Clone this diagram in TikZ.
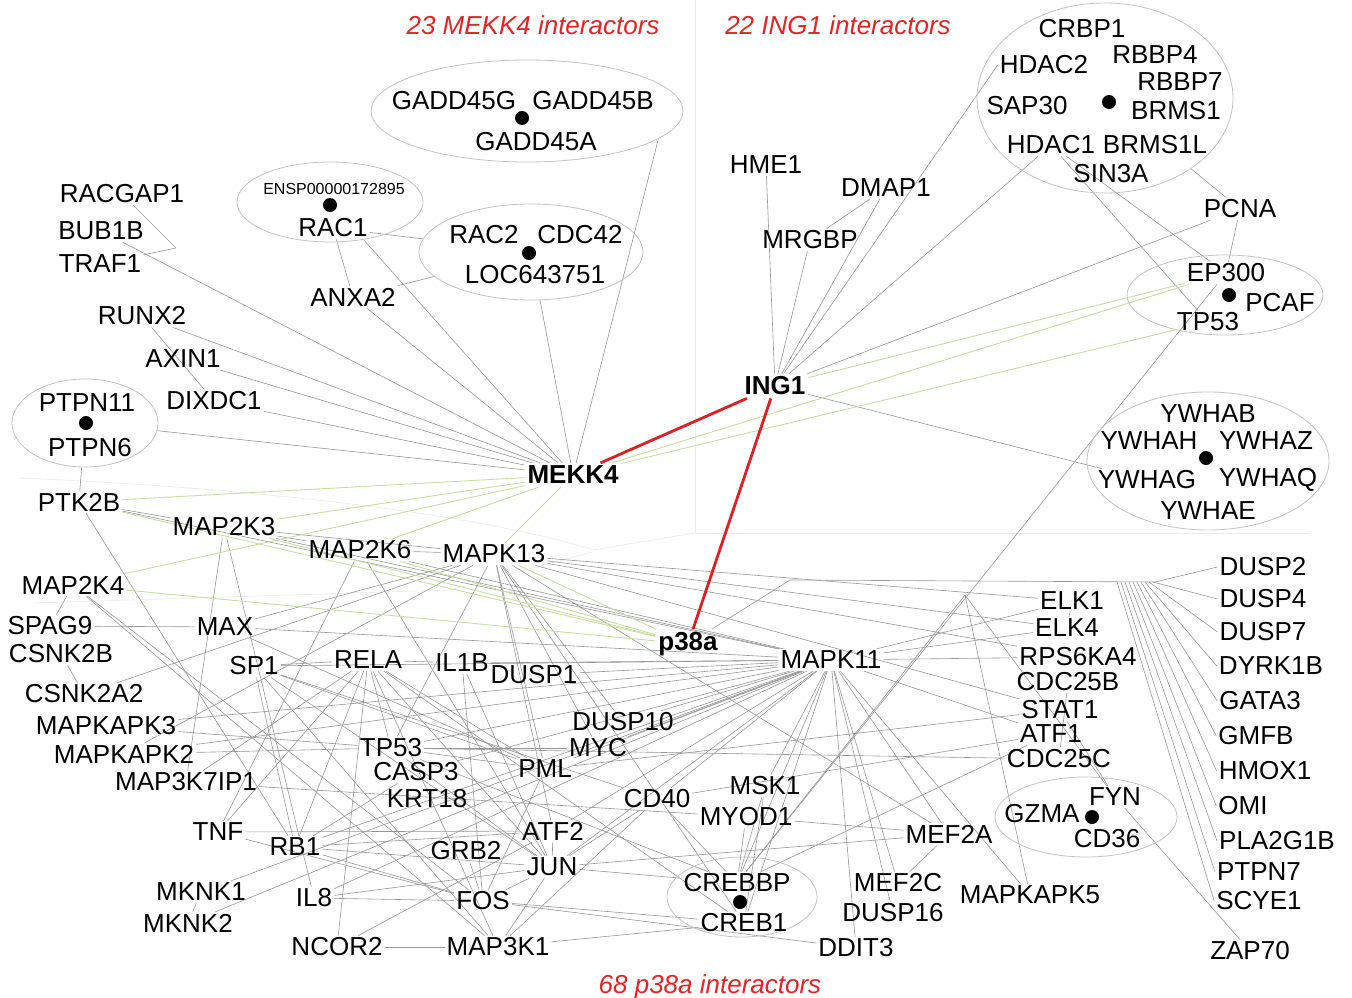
\documentclass[tikz,border=0pt]{standalone}
\usepackage{fontspec}
\setmainfont{Liberation Sans}
\usetikzlibrary{shapes.geometric,backgrounds}
\definecolor{linkgray}{RGB}{150,150,150}
\definecolor{linkgreen}{RGB}{200,222,160}
\definecolor{hubred}{RGB}{226,30,36}
\definecolor{notered}{RGB}{230,35,35}
\definecolor{grpgray}{RGB}{195,195,195}
\begin{document}
\begin{tikzpicture}[x=1pt,y=1pt,
  gene/.style={font=\fontsize{26}{28}\selectfont, inner sep=2pt},
  small/.style={font=\fontsize{16}{18}\selectfont, inner sep=1pt},
  hub/.style={font=\fontsize{26}{28}\selectfont\bfseries, inner sep=3pt},
  note/.style={font=\fontsize{26}{28}\selectfont\itshape, text=notered, anchor=base},
  grp/.style={ellipse, draw=grpgray, line width=0.8pt, inner sep=0pt},
  dot/.style={circle, fill=black, inner sep=0pt, minimum size=14pt},
  link/.style={draw=linkgray, line width=0.6pt},
  glink/.style={draw=linkgreen, line width=0.9pt},
  rlink/.style={draw=hubred, line width=2.8pt},
  faint/.style={draw=black!7, line width=0.8pt}]
\useasboundingbox (0,0) rectangle (1352,-998);

\node[note] (nmekk) at (533,-35) {23 MEKK4 interactors};
\node[note] (ning) at (838,-35) {22 ING1 interactors};
\node[note] (np38) at (710,-993) {68 p38a interactors};

\node[hub] (mekk4) at (573,-475) {MEKK4};
\node[hub] (ing1) at (775,-386) {ING1};
\node[hub] (p38a) at (688,-644) {p38a};

\node[grp, minimum width=312, minimum height=102] (gadd) at (527,-111) {};
\node[gene] (gadd45g) at (454,-101) {GADD45G};
\node[gene] (gadd45b) at (593,-101) {GADD45B};
\node[gene] (gadd45a) at (536,-142) {GADD45A};
\node[dot] (gdot) at (522,-118) {};
\node[grp, minimum width=186, minimum height=80] (ensp) at (330,-202) {};
\node[small] (enspl) at (334,-189) {ENSP00000172895};
\node[dot] (edot) at (330,-205) {};
\node[gene] (rac1) at (333,-228) {RAC1};
\node[grp, minimum width=224, minimum height=96] (racgrp) at (531,-252) {};
\node[gene] (rac2) at (484,-235) {RAC2};
\node[gene] (cdc42) at (580,-235) {CDC42};
\node[gene] (loc) at (535,-275) {LOC643751};
\node[dot] (rdot) at (529,-253) {};
\node[gene] (racgap1) at (122,-194) {RACGAP1};
\node[gene] (bub1b) at (101,-231) {BUB1B};
\node[gene] (traf1) at (100,-264) {TRAF1};
\node[gene] (anxa2) at (353,-297) {ANXA2};
\node[gene] (runx2) at (142,-316) {RUNX2};
\node[gene] (axin1) at (183,-359) {AXIN1};
\node[gene] (dixdc1) at (214,-401) {DIXDC1};
\node[grp, minimum width=146, minimum height=88] (ptpn) at (85,-423) {};
\node[gene] (ptpn11) at (87,-403) {PTPN11};
\node[gene] (ptpn6) at (90,-448) {PTPN6};
\node[dot] (pdot) at (86,-423) {};

\node[gene] (ptk2b) at (79,-502) {PTK2B};
\node[gene] (map2k3) at (224,-527) {MAP2K3};
\node[gene] (map2k6) at (360,-550) {MAP2K6};
\node[gene] (mapk13) at (494,-554) {MAPK13};
\node[gene] (map2k4) at (73,-585) {MAP2K4};
\node[gene] (spag9) at (50,-626) {SPAG9};
\node[gene] (csnk2b) at (61,-654) {CSNK2B};
\node[gene] (max) at (225,-627) {MAX};
\node[gene] (csnk2a2) at (84,-694) {CSNK2A2};
\node[gene] (sp1) at (254,-666) {SP1};
\node[gene] (rela) at (368,-660) {RELA};
\node[gene] (il1b) at (462,-663) {IL1B};
\node[gene] (dusp1) at (534,-675) {DUSP1};
\node[gene] (mapkapk3) at (106,-726) {MAPKAPK3};
\node[gene] (mapkapk2) at (124,-754) {MAPKAPK2};
\node[gene] (map3k7ip1) at (186,-782) {MAP3K7IP1};
\node[gene] (tp53b) at (391,-748) {TP53};
\node[gene] (casp3) at (416,-772) {CASP3};
\node[gene] (krt18) at (427,-799) {KRT18};
\node[gene] (dusp10) at (623,-722) {DUSP10};
\node[gene] (myc) at (598,-748) {MYC};
\node[gene] (pml) at (545,-769) {PML};
\node[gene] (cd40) at (657,-799) {CD40};
\node[gene] (tnf) at (218,-832) {TNF};
\node[gene] (rb1) at (295,-847) {RB1};
\node[gene] (atf2) at (553,-831) {ATF2};
\node[gene] (grb2) at (466,-851) {GRB2};
\node[gene] (jun) at (552,-867) {JUN};
\node[gene] (mknk1) at (201,-892) {MKNK1};
\node[gene] (mknk2) at (188,-923) {MKNK2};
\node[gene] (il8) at (314,-898) {IL8};
\node[gene] (fos) at (483,-901) {FOS};
\node[gene] (ncor2) at (337,-947) {NCOR2};
\node[gene] (map3k1) at (498,-947) {MAP3K1};

\node[grp, minimum width=256, minimum height=190] (inggrp) at (1105,-98) {};
\node[gene] (crbp1) at (1082,-29) {CRBP1};
\node[gene] (hdac2) at (1044,-65) {HDAC2};
\node[gene] (rbbp4) at (1155,-55) {RBBP4};
\node[gene] (rbbp7) at (1180,-82) {RBBP7};
\node[gene] (sap30) at (1027,-106) {SAP30};
\node[dot] (idot) at (1109,-102) {};
\node[gene] (brms1) at (1176,-111) {BRMS1};
\node[gene] (hdac1) at (1051,-145) {HDAC1};
\node[gene] (brms1l) at (1155,-145) {BRMS1L};
\node[gene] (sin3a) at (1111,-174) {SIN3A};
\node[gene] (hme1) at (766,-165) {HME1};
\node[gene] (dmap1) at (886,-188) {DMAP1};
\node[gene] (mrgbp) at (810,-240) {MRGBP};
\node[gene] (pcna) at (1240,-209) {PCNA};
\node[grp, minimum width=196, minimum height=80] (epgrp) at (1225,-295) {};
\node[gene] (ep300) at (1226,-273) {EP300};
\node[dot] (pcdot) at (1229,-295) {};
\node[gene] (pcaf) at (1280,-303) {PCAF};
\node[gene] (tp53i) at (1208,-322) {TP53};
\node[grp, minimum width=242, minimum height=138] (ywgrp) at (1208,-461) {};
\node[gene] (ywhab) at (1208,-414) {YWHAB};
\node[gene] (ywhah) at (1149,-441) {YWHAH};
\node[gene] (ywhaz) at (1266,-441) {YWHAZ};
\node[dot] (ydot) at (1206,-458) {};
\node[gene] (ywhag) at (1147,-480) {YWHAG};
\node[gene] (ywhaq) at (1268,-480) {YWHAQ};
\node[gene] (ywhae) at (1208,-511) {YWHAE};

\node[gene] (mapk11) at (831,-660) {MAPK11};
\node[gene] (elk1) at (1072,-601) {ELK1};
\node[gene] (elk4) at (1067,-628) {ELK4};
\node[gene] (rps6ka4) at (1078,-657) {RPS6KA4};
\node[gene] (cdc25b) at (1068,-682) {CDC25B};
\node[gene] (stat1) at (1060,-710) {STAT1};
\node[gene] (atf1) at (1051,-734) {ATF1};
\node[gene] (cdc25c) at (1059,-759) {CDC25C};
\node[gene] (msk1) at (765,-786) {MSK1};
\node[gene] (myod1) at (746,-817) {MYOD1};
\node[gene] (mef2a) at (949,-834) {MEF2A};
\node[grp, minimum width=150, minimum height=80] (crebgrp) at (742,-897) {};
\node[gene] (crebbp) at (737,-883) {CREBBP};
\node[dot] (cdot) at (740,-902) {};
\node[gene] (creb1) at (744,-923) {CREB1};
\node[gene] (mef2c) at (898,-883) {MEF2C};
\node[gene] (dusp16) at (893,-913) {DUSP16};
\node[gene] (mapkapk5) at (1030,-895) {MAPKAPK5};
\node[gene] (ddit3) at (856,-948) {DDIT3};
\node[grp, minimum width=182, minimum height=80] (fyngrp) at (1086,-817) {};
\node[gene] (gzma) at (1042,-814) {GZMA};
\node[gene] (fyn) at (1115,-797) {FYN};
\node[gene] (cd36) at (1107,-839) {CD36};
\node[dot] (fdot) at (1092,-817) {};
\node[gene] (dusp2) at (1263,-567) {DUSP2};
\node[gene] (dusp4) at (1263,-599) {DUSP4};
\node[gene] (dusp7) at (1263,-632) {DUSP7};
\node[gene] (dyrk1b) at (1271,-666) {DYRK1B};
\node[gene] (gata3) at (1260,-701) {GATA3};
\node[gene] (gmfb) at (1256,-736) {GMFB};
\node[gene] (hmox1) at (1265,-771) {HMOX1};
\node[gene] (omi) at (1243,-806) {OMI};
\node[gene] (pla2g1b) at (1277,-841) {PLA2G1B};
\node[gene] (ptpn7) at (1259,-872) {PTPN7};
\node[gene] (scye1) at (1259,-901) {SCYE1};
\node[gene] (zap70) at (1250,-951) {ZAP70};

\coordinate (j1) at (176,-248);
\coordinate (jd1) at (790,-580);
\coordinate (jd2) at (1155,-582);
\coordinate (jv) at (965,-595);

\begin{scope}[on background layer]
\draw[faint] (695,0) -- (695,-533) -- (1310,-533);
\draw[faint] (20,-478) .. controls (300,-490) and (500,-520) .. (593,-550) -- (695,-533);
\draw[faint] (33,-603) -- (450,-590) -- (593,-552);

\foreach \a/\b in {bub1b/mekk4,racgap1/j1,traf1/j1,runx2/mekk4,runx2/dixdc1,axin1/mekk4,dixdc1/mekk4,ptpn/mekk4,ptpn/ptk2b,ensp/mekk4,rac1/anxa2,rac1/racgrp,racgrp/anxa2,anxa2/mekk4,racgrp/mekk4,
  hme1/ing1,mrgbp/ing1,dmap1/ing1,mrgbp/dmap1,hdac1/ing1,hdac1/tp53i,hdac1/ep300,inggrp/pcna,pcna/ing1,pcna/ep300,ing1/ywhag,ep300/crebbp}
  \draw[link] (\a) -- (\b);
\draw[link] (hdac2.west) -- (ing1);
\draw[link] (gadd.-12) -- (mekk4);

\foreach \a/\b in {ptk2b/map2k3,ptk2b/mapk11,ptk2b/rb1,map2k3/map2k6,map2k3/mapk13,map2k3/mapk11,map2k3/map3k7ip1,map2k3/il8,
  map2k6/mapk13,map2k6/mapk11,map2k6/tnf,map2k6/jun,map2k4/spag9,map2k4/map3k1,map2k4/fos,spag9/max,csnk2b/csnk2a2,csnk2a2/mapk13,
  max/mapk13,max/mapk11,max/pml,sp1/rela,sp1/rb1,sp1/mapk11,sp1/pml,sp1/jun,sp1/map3k1,sp1/cd40,
  rela/il1b,rela/tp53b,rela/ncor2,rela/tnf,rela/rb1,rela/map3k7ip1,rela/pml,rela/jun,rela/map3k1,rela/creb1,
  mknk1/mknk2,mknk1/mapk11,mknk2/mapk11,il1b/fos,il1b/jun,il1b/mapk11,dusp1/mapk11,
  mapkapk3/mapk11,mapkapk3/tp53b,mapkapk2/tp53b,mapkapk2/mapk11,mapkapk2/mapk13,map3k7ip1/myod1,
  tnf/atf2,tnf/fos,rb1/atf2,rb1/jun,rb1/fos,rb1/mapk11,
  tp53b/myc,tp53b/pml,tp53b/jun,tp53b/mapk11,tp53b/mapk13,tp53b/cdc25c,tp53b/crebbp,casp3/rb1,casp3/mapk11,
  grb2/fos,atf2/jun,jun/fos,jun/mapk11,jun/cd40,jun/crebbp,jun/map3k1,jun/mef2a,fos/pml,fos/creb1,fos/ddit3,
  ncor2/map3k1,ncor2/atf2,il8/fos,il8/mapk11,il8/jun,map3k1/cd40,map3k1/creb1}
  \draw[link] (\a) -- (\b);

\foreach \a/\b in {mapk11/elk1,mapk11/elk4,mapk11/rps6ka4,mapk11/atf1,mapk11/msk1,mapk11/mef2a,mapk11/mef2c,mapk11/dusp16,mapk11/ddit3,
  mapk11/crebbp,mapk11/creb1,mapk11/mapkapk5,mapk11/pml,mapk11/myc,mapk11/cd40,mapk11/atf2,mapk11/dusp10,
  mapk13/elk1,mapk13/elk4,mapk13/rps6ka4,mapk13/atf2,mapk13/mef2a,mapk13/creb1,mapk13/myc,mapk13/pml,mapk13/dusp10,mapk13/stat1,
  elk1/elk4,cdc25b/cdc25c,stat1/pml,atf1/crebbp,atf1/cd40,msk1/creb1,msk1/crebbp,myod1/crebbp,myod1/mef2a,mef2a/mef2c,
  cd40/crebbp,fyn/zap70,stat1/fyn,jv/crebbp,jv/mapkapk5,jv/fyn,p38a/jd1,jd1/jd2}
  \draw[link] (\a) -- (\b);

\foreach \t/\dx in {dusp2/0,dusp4/-2,dusp7/-6,dyrk1b/-10,gata3/-14,gmfb/-18,hmox1/-22,omi/-26,pla2g1b/-30,ptpn7/-34,scye1/-38}
  \draw[link] ([xshift=\dx pt]jd2) -- (\t.west);

\foreach \a/\b in {mekk4/ptk2b,mekk4/map2k3,mekk4/map2k4,mekk4/map2k6,mekk4/mapk13,mekk4/ep300,mekk4/tp53i,ing1/ep300,
  p38a/ptk2b,p38a/map2k3,p38a/map2k4,p38a/map2k6,p38a/mapk13}
  \draw[glink] (\a) -- (\b);
\end{scope}

\draw[rlink] (mekk4) -- (ing1);
\draw[rlink] (ing1) -- (p38a);
\end{tikzpicture}
\end{document}
